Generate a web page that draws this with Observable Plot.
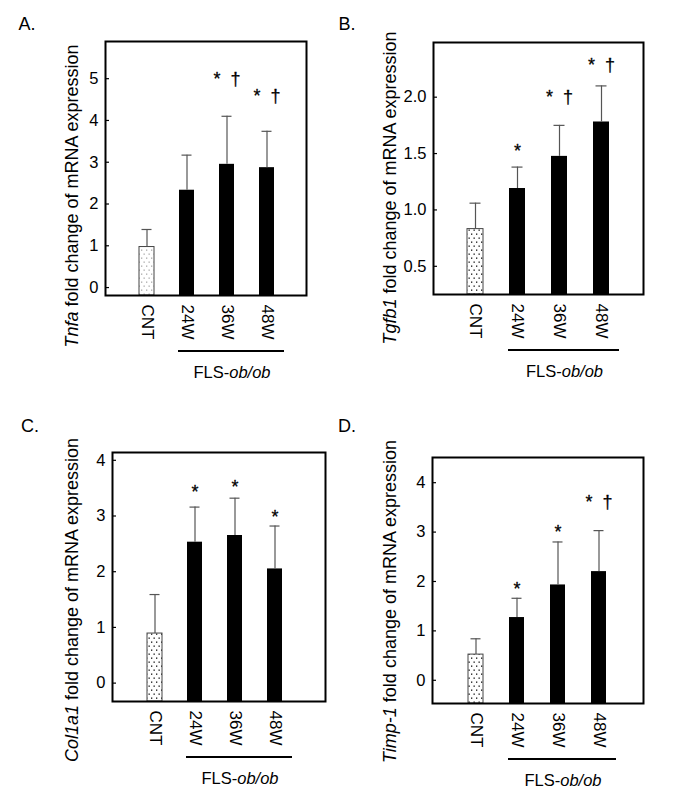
<!DOCTYPE html>
<html>
<head>
<meta charset="utf-8">
<script src="https://cdn.jsdelivr.net/npm/d3@7"></script>
<script src="https://cdn.jsdelivr.net/npm/@observablehq/plot@0.6"></script>
<style>
  body { margin: 0; background: #fff; font-family: "Liberation Sans", Arial, sans-serif; }
  #fig { position: relative; width: 680px; height: 800px; background: #fff; }
  .panel { position: absolute; width: 340px; height: 400px; }
</style>
</head>
<body>
<div id="fig"></div>
<script>
// ---------- data ----------
const groups = ["CNT", "24W", "36W", "48W"];
const groupLabel = "FLS-";
const groupLabelItalic = "ob/ob";

// A. Tnfa
const tnfaMean  = [0.97, 2.33, 2.95, 2.87];
const tnfaUpper = [1.39, 3.17, 4.10, 3.74];
const tnfaSig   = ["", "", "*\u00a0\u00a0†", "*\u00a0\u00a0†"];
const tnfaSigY  = [null, null, 4.98, 4.59];
const tnfaTicks = [0, 1, 2, 3, 4, 5];

// B. Tgfb1
const tgfbMean  = [0.83, 1.19, 1.475, 1.78];
const tgfbUpper = [1.06, 1.38, 1.75, 2.10];
const tgfbSig   = ["", "*", "*\u00a0\u00a0†", "*\u00a0\u00a0†"];
const tgfbSigY  = [null, 1.52, 2.0, 2.28];
const tgfbTicks = [0.5, 1.0, 1.5, 2.0];

// C. Col1a1
const colMean  = [0.89, 2.53, 2.65, 2.05];
const colUpper = [1.59, 3.16, 3.32, 2.82];
const colSig   = ["", "*", "*", "*"];
const colSigY  = [null, 3.42, 3.51, 2.97];
const colTicks = [0, 1, 2, 3, 4];

// D. Timp-1
const timpMean  = [0.52, 1.27, 1.93, 2.20];
const timpUpper = [0.84, 1.66, 2.80, 3.03];
const timpSig   = ["", "*", "*", "*\u00a0\u00a0†"];
const timpSigY  = [null, 1.85, 3.00, 3.60];
const timpTicks = [0, 1, 2, 3, 4];

// ---------- panel layout ----------
const panels = [
  {id: "A", letter: "A.", gene: "Tnfa", mean: tnfaMean, upper: tnfaUpper, sig: tnfaSig, sigY: tnfaSigY, ticks: tnfaTicks, fmt: d3.format("d"),
   left: 0, top: 0, mL: 105, mR: 34, mT: 41, mB: 105, xr: [138, 274], yd: [-0.19, 5.89], title: [72, 196], lab: [27, 30], dot: "#aaa"},
  {id: "B", letter: "B.", gene: "Tgfb1", mean: tgfbMean, upper: tgfbUpper, sig: tgfbSig, sigY: tgfbSigY, ticks: tgfbTicks, fmt: d3.format(".1f"),
   left: 340, top: 0, mL: 93, mR: 37, mT: 42, mB: 106, xr: [126.7, 268.3], yd: [0.25, 2.485], title: [50, 188], lab: [7, 30], dot: "#111"},
  {id: "C", letter: "C.", gene: "Col1a1", mean: colMean, upper: colUpper, sig: colSig, sigY: colSigY, ticks: colTicks, fmt: d3.format("d"),
   left: 0, top: 400, mL: 112, mR: 15, mT: 52, mB: 99, xr: [145.7, 282.3], yd: [-0.33, 4.14], title: [72, 200], lab: [30, 32], dot: "#111"},
  {id: "D", letter: "D.", gene: "Timp-1", mean: timpMean, upper: timpUpper, sig: timpSig, sigY: timpSigY, ticks: timpTicks, fmt: d3.format("d"),
   left: 340, top: 400, mL: 92, mR: 37, mT: 57, mB: 97, xr: [126.7, 267.7], yd: [-0.47, 4.51], title: [50, 201.5], lab: [7, 32], dot: "#111"}
];

const FONT = "'Liberation Sans', Arial, sans-serif";
const fig = document.getElementById("fig");

for (const p of panels) {
  const rows = groups.map((g, i) => ({group: g, mean: p.mean[i], upper: p.upper[i], sig: p.sig[i], sigY: p.sigY[i]}));
  const W = 340, H = 400;
  const innerW = W - p.mL - p.mR;
  const pat = `dots${p.id}`;
  const chart = Plot.plot({
    width: W, height: H,
    marginLeft: p.mL, marginRight: p.mR, marginTop: p.mT, marginBottom: p.mB,
    style: {fontFamily: FONT, fontSize: "16px", color: "#000", background: "transparent", overflow: "visible"},
    x: {domain: groups, range: p.xr, paddingInner: 0.63, paddingOuter: 0, label: null},
    y: {domain: p.yd, label: null},
    marks: [
      Plot.barY(rows.filter(d => d.group === "CNT"), {x: "group", y1: p.yd[0], y2: "mean", fill: `url(#${pat})`, stroke: "#444", strokeWidth: 1}),
      Plot.barY(rows.filter(d => d.group !== "CNT"), {x: "group", y1: p.yd[0], y2: "mean", fill: "#000"}),
      Plot.ruleX(rows, {x: "group", y1: "mean", y2: "upper", stroke: "#555", strokeWidth: 1.2}),
      Plot.tickY(rows, {x: "group", y: "upper", stroke: "#555", strokeWidth: 1.2, inset: 2.5}),
      Plot.text(rows.filter(d => d.sig), {x: "group", y: "sigY", text: "sig", fontSize: 18, fill: "#000", stroke: "#000", strokeWidth: 0.3}),
      Plot.tickY(p.ticks, {y: d => d, stroke: "#000", strokeWidth: 1.2, insetRight: innerW - 4}),
      Plot.axisY({ticks: p.ticks, tickFormat: p.fmt, tickSize: 0, tickPadding: 7, fontSize: 16.5}),
      Plot.axisX({tickSize: 0, tickPadding: 9, tickRotate: 90, fontSize: 17}),
      Plot.frame({stroke: "#000", strokeWidth: 2})
    ]
  });

  const svg = d3.select(chart);
  // dot pattern
  const defs = svg.insert("defs", ":first-child");
  const pt = defs.append("pattern").attr("id", pat).attr("patternUnits", "userSpaceOnUse")
    .attr("width", 5).attr("height", 8);
  pt.append("rect").attr("width", 5).attr("height", 8).attr("fill", "#fff");
  pt.append("rect").attr("x", 1).attr("y", 1.5).attr("width", 1.3).attr("height", 1.3).attr("fill", p.dot);
  pt.append("rect").attr("x", 3.5).attr("y", 5.5).attr("width", 1.3).attr("height", 1.3).attr("fill", p.dot);

  // group underline and label, positioned with the plot's x scale
  const xs = chart.scale("x");
  const bw = xs.bandwidth;
  const x1 = xs.apply("24W") - 1;
  const x2 = xs.apply("48W") + bw + 10;
  const yLine = H - p.mB + 56;
  svg.append("line").attr("x1", x1).attr("x2", x2).attr("y1", yLine).attr("y2", yLine)
    .attr("stroke", "#000").attr("stroke-width", 2.2);
  const fl = svg.append("text").attr("x", (x1 + x2) / 2 + 1).attr("y", yLine + 27)
    .attr("text-anchor", "middle").attr("font-family", FONT).attr("font-size", 16.5).attr("fill", "#000");
  fl.append("tspan").text(groupLabel);
  fl.append("tspan").attr("font-style", "italic").text(groupLabelItalic);

  // y-axis title
  const t = svg.append("text")
    .attr("transform", `translate(${p.title[0]},${p.title[1]}) rotate(-90)`)
    .attr("text-anchor", "middle").attr("dy", "0.35em")
    .attr("font-family", FONT).attr("font-size", 18).attr("fill", "#000");
  t.append("tspan").attr("font-style", "italic").text(p.gene);
  t.append("tspan").text(" fold change of mRNA expression");

  // panel letter
  svg.append("text").attr("x", p.lab[0]).attr("y", p.lab[1])
    .attr("font-family", FONT).attr("font-size", 18).attr("fill", "#000").text(p.letter);

  const div = document.createElement("div");
  div.className = "panel";
  div.style.left = p.left + "px";
  div.style.top = p.top + "px";
  div.appendChild(chart);
  fig.appendChild(div);
}
</script>
</body>
</html>
